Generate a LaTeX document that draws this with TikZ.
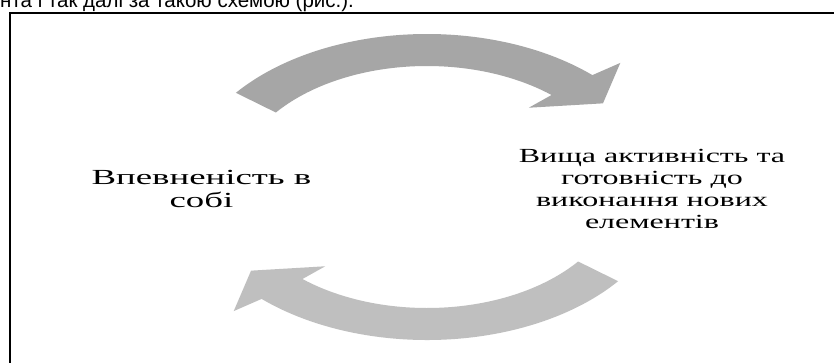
\documentclass[tikz,border=0pt]{standalone}
\usepackage{fontspec}
\setmainfont{Liberation Serif}
\newfontfamily\arialfont{Liberation Sans}
\definecolor{topgray}{HTML}{A6A6A6}
\definecolor{botgray}{HTML}{BFBFBF}
\tikzset{
  label text/.style={align=center, inner sep=0pt, xscale=1.6,
    font=\fontsize{20}{21.7}\selectfont},
  cyc arrow/.style={draw=none}
}
\begin{document}
\begin{tikzpicture}[x=1pt,y=-1pt]
\useasboundingbox (0,0) rectangle (834,362);
\clip (0,0) rectangle (834,362);
\fill[white] (0,0) rectangle (834,362);
\node[anchor=base west, inner sep=0pt, font=\arialfont\fontsize{20.5}{24}\selectfont] (caption) at (0,7.3) {нта і так далі за такою схемою (рис.).};
\draw[line width=2pt] (9.5,13) rectangle (845,375);
\begin{scope}[shift={(427,187)}, xscale=1.585, yscale=-1]
\fill[topgray, cyc arrow] (142:153) arc[start angle=142, end angle=47, radius=153] -- (45.5:174) -- (37:139) -- (51:102) -- (49.5:121) arc[start angle=49.5, end angle=142, radius=121] -- cycle;
\fill[botgray, cyc arrow] (322:153) arc[start angle=322, end angle=227, radius=153] -- (225.5:174) -- (217:139) -- (231:102) -- (229.5:121) arc[start angle=229.5, end angle=322, radius=121] -- cycle;
\end{scope}
\node[label text, xscale=1.07, font=\fontsize{21.5}{23.7}\selectfont] (conf) at (201.5,188.9) {Впевненість в\\собі};
\node[label text] (act) at (652,189) {Вища активність та\\готовність до\\виконання нових\\елементів};
\end{tikzpicture}
\end{document}
